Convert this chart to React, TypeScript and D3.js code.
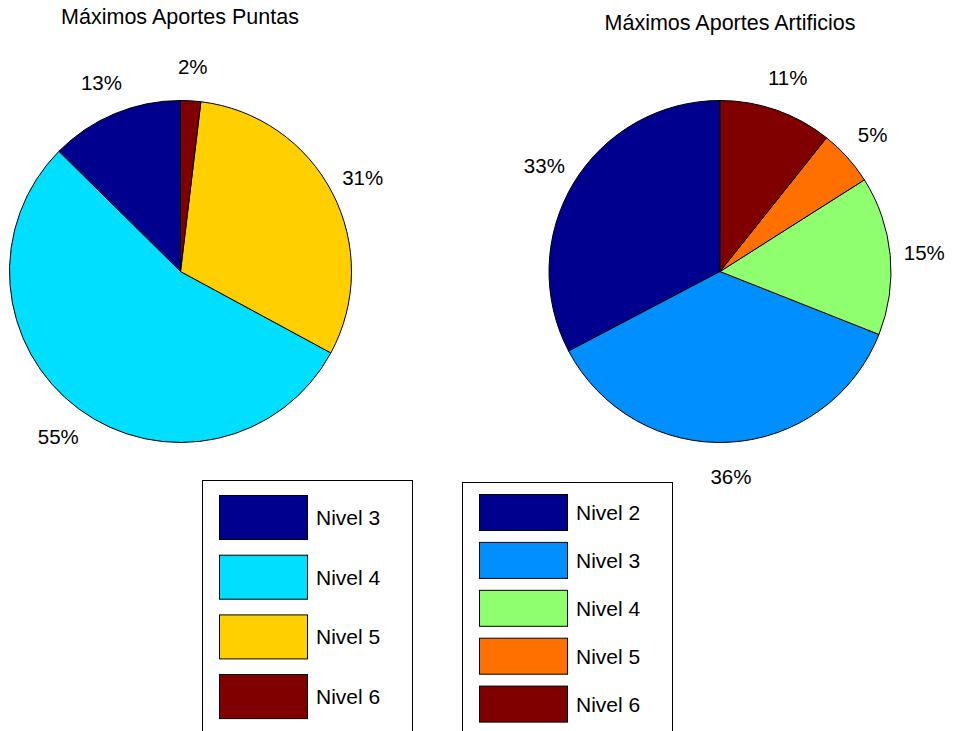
import React from "react";
import * as d3 from "d3";

const leftTitle = "Máximos Aportes Puntas";
const leftCategories = ["Nivel 3", "Nivel 4", "Nivel 5", "Nivel 6"];
const leftValues = [12.6, 54.5, 31.0, 1.9];
const leftColors = ["#00008F", "#00DFFF", "#FFCF00", "#800000"];

const rightTitle = "Máximos Aportes Artificios";
const rightCategories = ["Nivel 2", "Nivel 3", "Nivel 4", "Nivel 5", "Nivel 6"];
const rightValues = [32.7, 36.3, 15.0, 5.3, 10.7];
const rightColors = ["#00008F", "#008FFF", "#8FFF70", "#FF7000", "#800000"];

const FONT = "Liberation Sans, Arial, sans-serif";

type PieProps = {
  cx: number;
  cy: number;
  r: number;
  values: number[];
  colors: string[];
  title: string;
  titleY: number;
  titleX: number;
};

function Pie({ cx, cy, r, values, colors, title, titleY, titleX }: PieProps) {
  const total = d3.sum(values);
  const pie = d3
    .pie<number>()
    .sort(null)
    .value((d) => d)
    .startAngle(0)
    .endAngle(-2 * Math.PI);
  const arcs = pie(values);
  const arc = d3.arc<d3.PieArcDatum<number>>().innerRadius(0).outerRadius(r);
  const labelArc = d3
    .arc<d3.PieArcDatum<number>>()
    .innerRadius(r * 1.2)
    .outerRadius(r * 1.2);
  return (
    <g>
      <text x={titleX} y={titleY} textAnchor="middle" fontSize={21.5} fontFamily={FONT} fill="#000">
        {title}
      </text>
      <g transform={`translate(${cx},${cy})`}>
        {arcs.map((a, i) => (
          <path key={i} d={arc(a) || ""} fill={colors[i]} stroke="#000" strokeWidth={1} />
        ))}
        {arcs.map((a, i) => {
          const [lx, ly] = labelArc.centroid(a);
          return (
            <text
              key={"l" + i}
              x={lx}
              y={ly}
              dy="0.36em"
              textAnchor="middle"
              fontSize={20.5}
              fontFamily={FONT}
              fill="#000"
            >
              {Math.round((a.data / total) * 100) + "%"}
            </text>
          );
        })}
      </g>
    </g>
  );
}

type LegendProps = {
  x: number;
  y: number;
  w: number;
  categories: string[];
  colors: string[];
  swX: number;
  swY: number;
  swW: number;
  swH: number;
  pitch: number;
  textX: number;
};

function Legend({ x, y, w, categories, colors, swX, swY, swW, swH, pitch, textX }: LegendProps) {
  return (
    <g>
      <rect x={x} y={y} width={w} height={300} fill="#fff" stroke="#000" strokeWidth={1} />
      {categories.map((c, i) => (
        <g key={i}>
          <rect
            x={swX}
            y={swY + i * pitch}
            width={swW}
            height={swH}
            fill={colors[i]}
            stroke="#000"
            strokeWidth={1}
          />
          <text
            x={textX}
            y={swY + i * pitch + swH / 2}
            dy="0.36em"
            fontSize={21}
            fontFamily={FONT}
            fill="#000"
          >
            {c}
          </text>
        </g>
      ))}
    </g>
  );
}

export default function App() {
  return (
    <svg
      width={955}
      height={731}
      style={{ position: "absolute", left: 0, top: 0, background: "#fff" }}
    >
      <rect x={0} y={0} width={955} height={731} fill="#fff" />
      <Pie
        cx={180.5}
        cy={271.5}
        r={171}
        values={leftValues}
        colors={leftColors}
        title={leftTitle}
        titleX={180}
        titleY={24}
      />
      <Pie
        cx={720}
        cy={271.5}
        r={171}
        values={rightValues}
        colors={rightColors}
        title={rightTitle}
        titleX={730}
        titleY={30}
      />
      <Legend
        x={202.5}
        y={480.5}
        w={210}
        categories={leftCategories}
        colors={leftColors}
        swX={219.5}
        swY={495.5}
        swW={88}
        swH={44}
        pitch={59.7}
        textX={316}
      />
      <Legend
        x={462.5}
        y={482.5}
        w={210}
        categories={rightCategories}
        colors={rightColors}
        swX={479.5}
        swY={494.5}
        swW={88}
        swH={36}
        pitch={47.9}
        textX={576}
      />
    </svg>
  );
}
